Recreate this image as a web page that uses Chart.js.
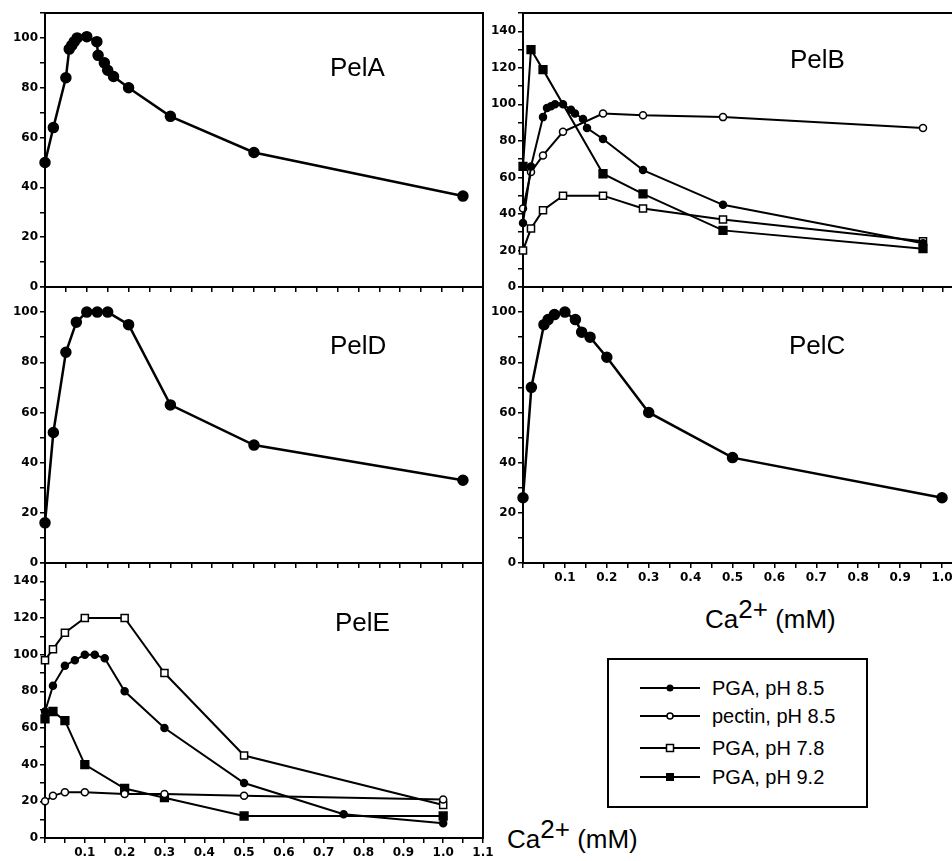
<!DOCTYPE html>
<html>
<head>
<meta charset="utf-8">
<script src="https://cdn.jsdelivr.net/npm/chart.js@4/dist/chart.umd.min.js"></script>
<style>
  html, body { margin: 0; padding: 0; background: #fff; overflow: hidden; }
  body { position: relative; width: 952px; height: 861px; }
  canvas { position: absolute; }
  .title { position: absolute; font: 26px "Liberation Sans", Arial, sans-serif; line-height: 26px; color: #000; white-space: nowrap; }
  .sup { position: relative; top: -10px; }
  #legend { position: absolute; left: 607px; top: 658px; width: 257px; height: 146px; border: 2px solid #000; }
  #legend .row { position: absolute; left: 30px; height: 24px; line-height: 24px; font: 20px "Liberation Sans", Arial, sans-serif; white-space: nowrap; }
  #legend svg { vertical-align: middle; margin-right: 11px; position: relative; top: -2px; }
</style>
</head>
<body>

<canvas id="pelA"></canvas>
<canvas id="pelD"></canvas>
<canvas id="pelE"></canvas>
<canvas id="pelB"></canvas>
<canvas id="pelC"></canvas>

<div class="title" style="left:330px;top:54px">PelA</div>
<div class="title" style="left:790px;top:46px">PelB</div>
<div class="title" style="left:330px;top:332px">PelD</div>
<div class="title" style="left:789px;top:332px">PelC</div>
<div class="title" style="left:335px;top:609px">PelE</div>

<div class="title" style="left:705px;top:606px">Ca<span class="sup">2+</span> (mM)</div>
<div class="title" style="left:507px;top:826px">Ca<span class="sup">2+</span> (mM)</div>

<div id="legend"></div>

<script>
/*********************************************************
 * DATA  (Ca2+ in mM, relative activity in %)
 *********************************************************/
// PelA - PGA, pH 8.5
const pelA_ca  = [0, 0.02, 0.05, 0.058, 0.064, 0.07, 0.077, 0.1, 0.124, 0.127, 0.142, 0.15, 0.164, 0.2, 0.3, 0.5, 1.0];
const pelA_act = [50, 64, 84, 95.5, 97, 98.5, 100, 100.5, 98.5, 93, 90, 87, 84.5, 80, 68.5, 54, 36.5];

// PelD - PGA, pH 8.5
const pelD_ca  = [0, 0.02, 0.05, 0.075, 0.1, 0.125, 0.15, 0.2, 0.3, 0.5, 1.0];
const pelD_act = [16, 52, 84, 96, 100, 100, 100, 95, 63, 47, 33];

// PelC - PGA, pH 8.5
const pelC_ca  = [0, 0.02, 0.05, 0.06, 0.075, 0.1, 0.125, 0.14, 0.16, 0.2, 0.3, 0.5, 1.0];
const pelC_act = [26, 70, 95, 97, 99, 100, 97, 92, 90, 82, 60, 42, 26];

// PelB - four conditions
const pelB_pga85_ca  = [0, 0.02, 0.05, 0.06, 0.07, 0.08, 0.1, 0.12, 0.13, 0.15, 0.16, 0.2, 0.3, 0.5, 1.0];
const pelB_pga85_act = [35, 66, 93, 98, 99, 100, 100, 97, 95, 92, 87, 81, 64, 45, 24];
const pelB_pectin_ca  = [0, 0.02, 0.05, 0.1, 0.2, 0.3, 0.5, 1.0];
const pelB_pectin_act = [43, 63, 72, 85, 95, 94, 93, 87];
const pelB_pga78_ca  = [0, 0.02, 0.05, 0.1, 0.2, 0.3, 0.5, 1.0];
const pelB_pga78_act = [20, 32, 42, 50, 50, 43, 37, 25];
const pelB_pga92_ca  = [0, 0.02, 0.05, 0.2, 0.3, 0.5, 1.0];
const pelB_pga92_act = [66, 130, 119, 62, 51, 31, 21];

// PelE - four conditions
const pelE_pga85_ca  = [0, 0.02, 0.05, 0.075, 0.1, 0.125, 0.15, 0.2, 0.3, 0.5, 0.75, 1.0];
const pelE_pga85_act = [69, 83, 94, 97, 100, 100, 98, 80, 60, 30, 13, 8];
const pelE_pectin_ca  = [0, 0.02, 0.05, 0.1, 0.2, 0.3, 0.5, 1.0];
const pelE_pectin_act = [20, 23, 25, 25, 24, 24, 23, 21];
const pelE_pga78_ca  = [0, 0.02, 0.05, 0.1, 0.2, 0.3, 0.5, 1.0];
const pelE_pga78_act = [97, 103, 112, 120, 120, 90, 45, 18];
const pelE_pga92_ca  = [0, 0.02, 0.05, 0.1, 0.2, 0.3, 0.5, 1.0];
const pelE_pga92_act = [65, 69, 64, 40, 27, 22, 12, 12];

const legendLabels = ["PGA, pH 8.5", "pectin, pH 8.5", "PGA, pH 7.8", "PGA, pH 9.2"];

/*********************************************************
 * STYLES
 *********************************************************/
const STYLE = {
  big:    { pointStyle: "circle", pointRadius: 5,   pointBackgroundColor: "#000", borderWidth: 2.5 },
  pga85:  { pointStyle: "circle", pointRadius: 3.5, pointBackgroundColor: "#000", borderWidth: 2 },
  pectin: { pointStyle: "circle", pointRadius: 3.5, pointBackgroundColor: "#fff", borderWidth: 2 },
  pga78:  { pointStyle: "rect",   pointRadius: 5,   pointBackgroundColor: "#fff", borderWidth: 2 },
  pga92:  { pointStyle: "rect",   pointRadius: 5.5, pointBackgroundColor: "#000", borderWidth: 2 }
};

function series(xs, ys, st) {
  return Object.assign({
    data: xs.map((x, i) => ({ x: x, y: ys[i] })),
    borderColor: "#000",
    pointBorderColor: "#000",
    pointBorderWidth: 1.5,
    showLine: true,
    tension: 0,
    clip: false
  }, st);
}

/*********************************************************
 * PANEL FACTORY
 *********************************************************/
const YW = 45, PT = 10, XH = 30, PR = 20;   // axis width / paddings

const framePlugin = {
  id: "frame",
  beforeDatasetsDraw(chart) {
    const a = chart.chartArea, ctx = chart.ctx;
    ctx.save();
    ctx.strokeStyle = "#000";
    ctx.lineWidth = 2;
    ctx.strokeRect(a.left, a.top, a.right - a.left, a.bottom - a.top);
    ctx.restore();
  }
};

const tickFont = { family: "DejaVu Sans", size: 12, weight: "bold" };

function panel(id, box, xMax, yMax, xLabels, datasets) {
  const cv = document.getElementById(id);
  const w = (box.r - box.l) + YW + PR;
  const h = (box.b - box.t) + PT + XH;
  cv.width = w; cv.height = h;
  cv.style.left = (box.l - YW) + "px";
  cv.style.top = (box.t - PT) + "px";

  return new Chart(cv.getContext("2d"), {
    type: "line",
    data: { datasets: datasets },
    options: {
      responsive: false,
      animation: false,
      events: [],
      layout: { padding: { left: 0, top: PT, right: PR, bottom: 0 } },
      plugins: { legend: { display: false }, tooltip: { enabled: false } },
      scales: {
        x: {
          type: "linear", min: 0, max: xMax, bounds: "data",
          afterFit: s => { s.height = XH; },
          border: { display: false },
          grid: { drawOnChartArea: false, drawTicks: true, tickLength: 5, color: "#000", lineWidth: 1.5 },
          ticks: {
            stepSize: 0.05, autoSkip: false, maxRotation: 0, includeBounds: false,
            maxTicksLimit: 100, padding: 3, color: "#000", font: tickFont,
            callback: v => {
              const k = Math.round(v * 100);
              return xLabels && k > 0 && k % 10 === 0 ? (k / 100).toFixed(1) : "";
            }
          }
        },
        y: {
          type: "linear", min: 0, max: yMax, bounds: "data",
          afterFit: s => { s.width = YW; },
          border: { display: false },
          grid: { drawOnChartArea: false, drawTicks: true, tickLength: 5, color: "#000", lineWidth: 1.5 },
          ticks: {
            stepSize: 10, autoSkip: false, includeBounds: false, maxTicksLimit: 100,
            padding: 2, color: "#000", font: tickFont,
            callback: v => (Math.round(v) % 20 === 0 ? String(Math.round(v)) : "")
          }
        }
      }
    },
    plugins: [framePlugin]
  });
}

/*********************************************************
 * BUILD
 *********************************************************/
panel("pelA", { l: 45, r: 483, t: 13, b: 287 }, 1.048, 110, false, [
  series(pelA_ca, pelA_act, STYLE.big)
]);

panel("pelD", { l: 45, r: 483, t: 287, b: 563 }, 1.048, 110, false, [
  series(pelD_ca, pelD_act, STYLE.big)
]);

panel("pelE", { l: 45, r: 483, t: 563, b: 838 }, 1.1, 150, true, [
  series(pelE_pga85_ca, pelE_pga85_act, STYLE.pga85),
  series(pelE_pectin_ca, pelE_pectin_act, STYLE.pectin),
  series(pelE_pga78_ca, pelE_pga78_act, STYLE.pga78),
  series(pelE_pga92_ca, pelE_pga92_act, STYLE.pga92)
]);

panel("pelB", { l: 523, r: 963, t: 13, b: 287 }, 1.1, 150, false, [
  series(pelB_pga85_ca, pelB_pga85_act, STYLE.pga85),
  series(pelB_pectin_ca, pelB_pectin_act, STYLE.pectin),
  series(pelB_pga78_ca, pelB_pga78_act, STYLE.pga78),
  series(pelB_pga92_ca, pelB_pga92_act, STYLE.pga92)
]);

panel("pelC", { l: 523, r: 963, t: 287, b: 563 }, 1.05, 110, true, [
  series(pelC_ca, pelC_act, STYLE.big)
]);

/*********************************************************
 * LEGEND
 *********************************************************/
const legendMarks = [
  '<circle cx="31" cy="8" r="3.5" fill="#000"/>',
  '<circle cx="31" cy="8" r="3" fill="#fff" stroke="#000" stroke-width="1.5"/>',
  '<rect x="27.5" y="4.5" width="7" height="7" fill="#fff" stroke="#000" stroke-width="1.5"/>',
  '<rect x="27" y="4" width="8" height="8" fill="#000"/>'
];
const rowTops = [17, 45, 77, 106];
const legend = document.getElementById("legend");
legendLabels.forEach((lbl, i) => {
  const row = document.createElement("div");
  row.className = "row";
  row.style.top = rowTops[i] + "px";
  row.innerHTML = '<svg width="62" height="16"><line x1="1" y1="8" x2="61" y2="8" stroke="#000" stroke-width="2"/>' +
    legendMarks[i] + '</svg><span>' + lbl + '</span>';
  legend.appendChild(row);
});
</script>
</body>
</html>
